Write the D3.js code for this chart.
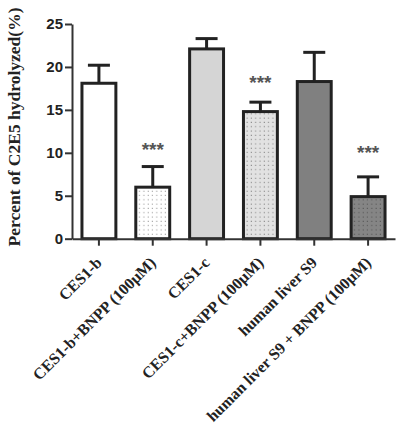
<!DOCTYPE html>
<html>
<head>
<meta charset="utf-8">
<script src="https://cdn.jsdelivr.net/npm/d3@7"></script>
<style>
  body { margin: 0; background: #fff; }
  svg { display: block; }
</style>
</head>
<body>
<svg id="chart" width="397" height="430"></svg>
<script>
// values
var categories = ["CES1-b", "CES1-b+BNPP (100\u03bcM)", "CES1-c", "CES1-c+BNPP (100\u03bcM)", "human liver S9", "human liver S9 + BNPP (100\u03bcM)"];
var means = [18.1, 6.0, 22.1, 14.8, 18.3, 4.9];
var errors = [2.1, 2.4, 1.2, 1.1, 3.4, 2.3];
var marks = ["", "***", "", "***", "", "***"];
var markLevels = [0, 10.8, 0, 18.6, 0, 10.4]; // height of the stars, in axis units
var yTicks = [0, 5, 10, 15, 20, 25];

var fills = ["#ffffff", "url(#dotsWhite)", "#d5d5d5", "url(#dotsLight)", "#808080", "url(#dotsDark)"];

var svg = d3.select("#chart");

// dotted fills
var defs = svg.append("defs");
function dots(id, bg, dot) {
  var p = defs.append("pattern")
    .attr("id", id)
    .attr("patternUnits", "userSpaceOnUse")
    .attr("width", 4.3)
    .attr("height", 4.3);
  p.append("rect").attr("width", 4.3).attr("height", 4.3).attr("fill", bg);
  p.append("rect").attr("x", 1.5).attr("y", 1.5).attr("width", 1).attr("height", 1).attr("fill", dot);
}
dots("dotsWhite", "#ffffff", "#888");
dots("dotsLight", "#e2e2e2", "#777");
dots("dotsDark", "#858585", "#4a4a4a");

var plotLeft = 72, plotRight = 395, plotTop = 24, plotBottom = 238.7;

var x = d3.scaleBand()
  .domain(categories)
  .range([plotLeft, plotRight])
  .paddingInner(0.37)
  .paddingOuter(0.185);

var y = d3.scaleLinear()
  .domain([0, 25])
  .range([plotBottom, plotTop]);

// y axis
var yAxis = svg.append("g")
  .attr("transform", "translate(" + plotLeft + ",0)")
  .call(d3.axisLeft(y).tickValues(yTicks).tickSize(7).tickPadding(2).tickSizeOuter(0));
yAxis.select(".domain").attr("stroke", "#333").attr("stroke-width", 2);
yAxis.selectAll(".tick line").attr("stroke", "#333").attr("stroke-width", 2);
yAxis.selectAll(".tick text")
  .attr("fill", "#222")
  .style("font-family", "Arial, 'Liberation Sans', sans-serif")
  .style("font-weight", "bold")
  .style("font-size", "15px");

// bars
var data = categories.map(function (c, i) {
  return { name: c, mean: means[i], err: errors[i], mark: marks[i], level: markLevels[i], fill: fills[i] };
});

var bars = svg.append("g");
bars.selectAll("rect")
  .data(data)
  .enter()
  .append("rect")
  .attr("x", function (d) { return x(d.name); })
  .attr("width", x.bandwidth())
  .attr("y", function (d) { return y(d.mean); })
  .attr("height", function (d) { return y(0) - y(d.mean); })
  .attr("fill", function (d) { return d.fill; })
  .attr("stroke", "#222")
  .attr("stroke-width", 3);

// error bars
var eb = svg.append("g").attr("stroke", "#222").attr("stroke-width", 3);
eb.selectAll("line.stem")
  .data(data)
  .enter()
  .append("line")
  .attr("class", "stem")
  .attr("x1", function (d) { return x(d.name) + x.bandwidth() / 2; })
  .attr("x2", function (d) { return x(d.name) + x.bandwidth() / 2; })
  .attr("y1", function (d) { return y(d.mean); })
  .attr("y2", function (d) { return y(d.mean + d.err); });
eb.selectAll("line.cap")
  .data(data)
  .enter()
  .append("line")
  .attr("class", "cap")
  .attr("x1", function (d) { return x(d.name) + x.bandwidth() / 2 - 11; })
  .attr("x2", function (d) { return x(d.name) + x.bandwidth() / 2 + 11; })
  .attr("y1", function (d) { return y(d.mean + d.err); })
  .attr("y2", function (d) { return y(d.mean + d.err); });

// significance stars
svg.append("g").selectAll("text")
  .data(data.filter(function (d) { return d.mark; }))
  .enter()
  .append("text")
  .attr("x", function (d) { return x(d.name) + x.bandwidth() / 2; })
  .attr("y", function (d) { return y(d.level) + 10; })
  .attr("text-anchor", "middle")
  .attr("fill", "#555")
  .style("font-family", "Arial, 'Liberation Sans', sans-serif")
  .style("font-weight", "bold")
  .style("font-size", "19px")
  .text(function (d) { return d.mark; });

// x axis
var xAxis = svg.append("g")
  .attr("transform", "translate(0," + plotBottom + ")")
  .call(d3.axisBottom(x).tickSize(7).tickSizeOuter(0));
xAxis.select(".domain").attr("stroke", "#333").attr("stroke-width", 2);
xAxis.selectAll(".tick line").attr("stroke", "#333").attr("stroke-width", 2);
xAxis.selectAll(".tick text")
  .attr("fill", "#222")
  .attr("text-anchor", "end")
  .attr("dy", null)
  .attr("y", null)
  .attr("transform", "translate(4,25) rotate(-45)")
  .style("font-family", "'Liberation Serif', 'Times New Roman', serif")
  .style("font-weight", "bold")
  .style("font-size", "16px");

// y title
svg.append("text")
  .attr("transform", "translate(20,127) rotate(-90)")
  .attr("text-anchor", "middle")
  .attr("fill", "#222")
  .style("font-family", "'Liberation Serif', 'Times New Roman', serif")
  .style("font-weight", "bold")
  .style("font-size", "17.5px")
  .text("Percent of C2E5 hydrolyzed(%)");
</script>
</body>
</html>
